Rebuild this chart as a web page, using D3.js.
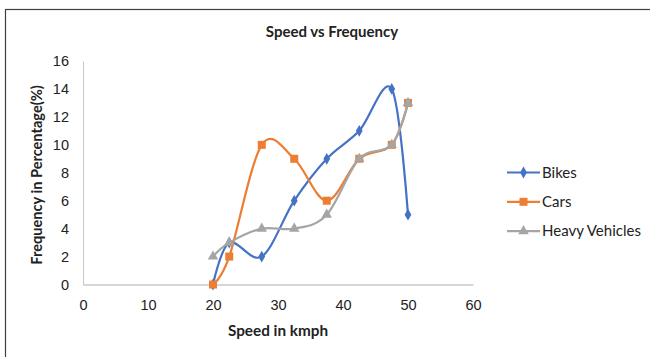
<!DOCTYPE html>
<html>
<head>
<meta charset="utf-8">
<script src="https://cdn.jsdelivr.net/npm/d3@7"></script>
<style>
  body { margin: 0; background: #fff; }
  svg { font-family: Lato, "Open Sans", sans-serif; }
</style>
</head>
<body>
<div id="chart"></div>
<script>
var speeds = [20, 22.5, 27.5, 32.5, 37.5, 42.5, 47.5, 50];
var bikes = [0, 3, 2, 6, 9, 11, 14, 5];
var cars = [0, 2, 10, 9, 6, 9, 10, 13];
var heavy = [2, 3, 4, 4, 5, 9, 10, 13];
var xTicks = [0, 10, 20, 30, 40, 50, 60];
var yTicks = [0, 2, 4, 6, 8, 10, 12, 14, 16];

var series = [
    {name: 'Bikes', values: bikes, color: '#4472C4', symbol: d3.symbolDiamond, size: 40},
    {name: 'Cars', values: cars, color: '#ED7D31', symbol: d3.symbolSquare, size: 64},
    {name: 'Heavy Vehicles', values: heavy, color: '#A5A5A5', symbol: d3.symbolTriangle, size: 48}
];

var width = 650, height = 357;

var svg = d3.select('#chart')
    .append('svg')
    .attr('width', width)
    .attr('height', height);

// chart frame
svg.append('rect')
    .attr('x', 5.5).attr('y', 9.5)
    .attr('width', 700).attr('height', 400)
    .attr('fill', 'none')
    .attr('stroke', '#404040')
    .attr('stroke-width', 1.2);

var x = d3.scaleLinear().domain([0, 60]).range([83, 473]);
var y = d3.scaleLinear().domain([0, 16]).range([284.5, 61]);

// axes
var xAxis = svg.append('g')
    .attr('transform', 'translate(0,' + y(0) + ')')
    .call(d3.axisBottom(x).tickValues(xTicks).tickSize(0).tickPadding(15));
xAxis.select('.domain').attr('stroke', '#c8c8c8').attr('stroke-width', 1.3);
xAxis.selectAll('text').attr('font-size', 14.5).attr('fill', '#222');

var yAxis = svg.append('g')
    .attr('transform', 'translate(' + x(0) + ',0)')
    .call(d3.axisLeft(y).tickValues(yTicks).tickSize(0).tickPadding(14));
yAxis.select('.domain').attr('stroke', '#c8c8c8').attr('stroke-width', 1);
yAxis.selectAll('text').attr('font-size', 14.5).attr('fill', '#222');

// lines
var line = d3.line()
    .x(function(d, i) { return x(speeds[i]); })
    .y(function(d) { return y(d); })
    .curve(d3.curveCardinal.tension(0));

series.forEach(function(s) {
    svg.append('path')
        .datum(s.values)
        .attr('d', line)
        .attr('fill', 'none')
        .attr('stroke', s.color)
        .attr('stroke-width', 2.2);

    svg.selectAll('.m-' + s.name.replace(' ', ''))
        .data(s.values)
        .enter().append('path')
        .attr('transform', function(d, i) { return 'translate(' + x(speeds[i]) + ',' + y(d) + ')'; })
        .attr('d', d3.symbol().type(s.symbol).size(s.size))
        .attr('fill', s.color);
});

// titles
svg.append('text')
    .attr('x', 332).attr('y', 37)
    .attr('text-anchor', 'middle')
    .attr('font-size', 15).attr('font-weight', 'bold')
    .attr('fill', '#222')
    .text('Speed vs Frequency');

svg.append('text')
    .attr('x', 278).attr('y', 336)
    .attr('text-anchor', 'middle')
    .attr('font-size', 15.3).attr('font-weight', 'bold')
    .attr('fill', '#222')
    .text('Speed in kmph');

svg.append('text')
    .attr('transform', 'translate(42,175) rotate(-90)')
    .attr('text-anchor', 'middle')
    .attr('font-size', 14.6).attr('font-weight', 'bold')
    .attr('fill', '#222')
    .text('Frequency in Percentage(%)');

// legend
var legend = svg.selectAll('.legend')
    .data(series)
    .enter().append('g')
    .attr('transform', function(d, i) { return 'translate(507,' + (172.5 + i * 29.3) + ')'; });

legend.append('line')
    .attr('x1', 0).attr('x2', 33)
    .attr('stroke', function(d) { return d.color; })
    .attr('stroke-width', 2.2);

legend.append('path')
    .attr('transform', 'translate(16.5,0)')
    .attr('d', function(d) { return d3.symbol().type(d.symbol).size(d.size)(); })
    .attr('fill', function(d) { return d.color; });

legend.append('text')
    .attr('x', 35).attr('y', 5)
    .attr('font-size', 15)
    .attr('fill', '#222')
    .text(function(d) { return d.name; });
</script>
</body>
</html>
